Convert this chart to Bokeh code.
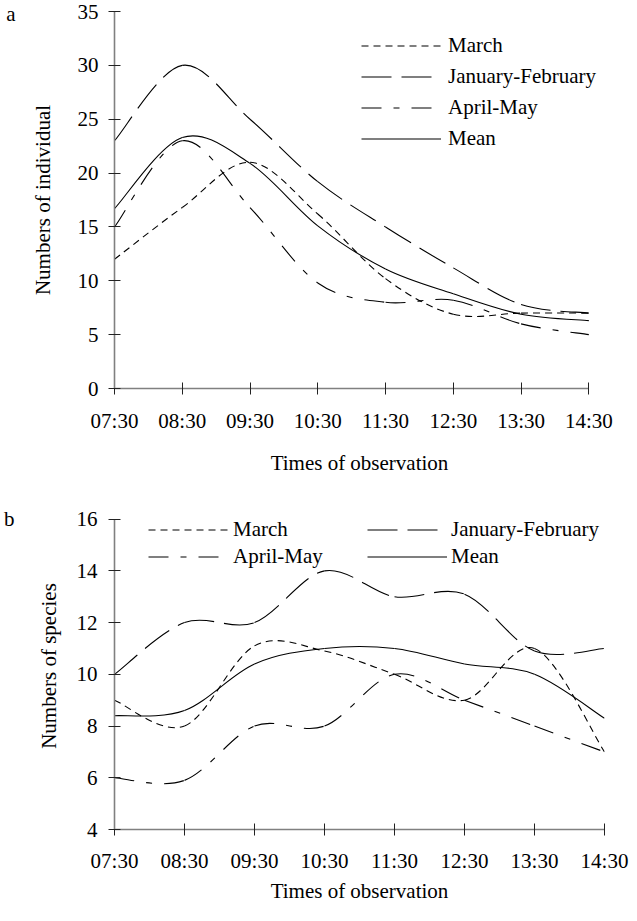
from bokeh.plotting import figure
from bokeh.models import Range1d, FixedTicker, Legend, LegendItem, LinearAxis
from bokeh.layouts import column
from bokeh.embed import file_html
from bokeh.resources import INLINE

# ---------------- data ----------------
hours = [7.5, 8.5, 9.5, 10.5, 11.5, 12.5, 13.5, 14.5]
time_labels = ["07:30", "08:30", "09:30", "10:30", "11:30", "12:30", "13:30", "14:30"]
series_names = ["March", "January-February", "April-May", "Mean"]

# panel a: numbers of individual
ind_march = [12.0, 16.8, 21.0, 16.2, 10.2, 6.9, 7.0, 7.0]
ind_janfeb = [23.0, 30.0, 25.0, 19.2, 15.0, 11.2, 7.8, 7.0]
ind_aprmay = [15.0, 23.0, 16.8, 9.8, 8.0, 8.2, 6.0, 5.0]
ind_mean = [16.7, 23.3, 20.9, 15.1, 11.1, 8.8, 6.9, 6.3]
ind_ticks = [0, 5, 10, 15, 20, 25, 30, 35]

# panel b: numbers of species
spe_march = [9.0, 8.0, 11.1, 10.9, 10.0, 9.0, 11.0, 7.0]
spe_janfeb = [10.0, 12.0, 12.0, 14.0, 13.0, 13.1, 10.9, 11.0]
spe_aprmay = [6.0, 5.9, 8.0, 8.0, 10.0, 9.0, 8.0, 7.0]
spe_mean = [8.4, 8.6, 10.4, 11.0, 11.0, 10.4, 10.0, 8.3]
spe_ticks = [4, 6, 8, 10, 12, 14, 16]

# ---------------- styles ----------------
FONT = "Liberation Serif"
FS = "21px"
DASHES = ["7 5", "30 10", "20 12 6 12", "solid"]
LW = 1.1
W = 629


def smooth(p, xs, ys, dash):
    """Draw a smoothed curve through the data points with bezier segments."""
    n = len(xs)
    d = dict(x0=[], y0=[], x1=[], y1=[], cx0=[], cy0=[], cx1=[], cy1=[])
    for i in range(n - 1):
        im = max(i - 1, 0)
        ip = min(i + 2, n - 1)
        d["x0"].append(xs[i]); d["y0"].append(ys[i])
        d["x1"].append(xs[i + 1]); d["y1"].append(ys[i + 1])
        d["cx0"].append(xs[i] + (xs[i + 1] - xs[im]) / 6.0)
        d["cy0"].append(ys[i] + (ys[i + 1] - ys[im]) / 6.0)
        d["cx1"].append(xs[i + 1] - (xs[ip] - xs[i]) / 6.0)
        d["cy1"].append(ys[i + 1] - (ys[ip] - ys[i]) / 6.0)
    return p.bezier(x0="x0", y0="y0", x1="x1", y1="y1", cx0="cx0", cy0="cy0",
                    cx1="cx1", cy1="cy1", source=d, line_color="black",
                    line_width=LW, line_dash=dash)


def style_axes(p, yticks, xlabel, ylabel, xs1, xs2, ys1, ys2, ybounds):
    p.xaxis.ticker = FixedTicker(ticks=hours)
    p.xaxis.major_label_overrides = {h: t for h, t in zip(hours, time_labels)}
    p.xaxis.bounds = (hours[0], hours[-1])
    p.yaxis.ticker = FixedTicker(ticks=yticks)
    p.yaxis.bounds = ybounds
    p.xaxis.axis_label = xlabel
    p.yaxis.axis_label = ylabel
    p.xaxis.major_label_standoff = xs1
    p.xaxis.axis_label_standoff = xs2
    p.yaxis.major_label_standoff = ys1
    p.yaxis.axis_label_standoff = ys2
    for ax in (p.xaxis[0], p.yaxis[0]):
        ax.axis_line_color = "#808080"
        ax.axis_line_width = 1.6
        ax.major_tick_line_color = "#222222"
        ax.major_tick_line_width = 1
        ax.major_tick_in = 6
        ax.major_tick_out = 6
        ax.minor_tick_line_color = None
        ax.major_label_text_font = FONT
        ax.major_label_text_font_size = FS
        ax.major_label_text_color = "black"
        ax.axis_label_text_font = FONT
        ax.axis_label_text_font_size = FS
        ax.axis_label_text_font_style = "normal"
        ax.axis_label_text_color = "black"
    p.grid.visible = False
    p.outline_line_color = None


def panel_letter(p, tick, letter, standoff):
    ax = LinearAxis(ticker=FixedTicker(ticks=[tick]), major_label_overrides={tick: letter},
                    axis_line_color=None, major_tick_line_color=None,
                    minor_tick_line_color=None, major_tick_in=0, major_tick_out=0,
                    major_label_standoff=standoff, major_label_text_font=FONT,
                    major_label_text_font_size=FS, major_label_text_color="black")
    p.add_layout(ax, "left")


def legend_for(p, names, renderers, loc, gh, sp, standoff):
    items = [LegendItem(label=nm, renderers=[r], index=0) for nm, r in zip(names, renderers)]
    leg = Legend(items=items, location=loc, glyph_width=80, glyph_height=gh,
                 label_height=gh, spacing=sp, label_standoff=standoff,
                 padding=0, margin=0, label_text_font=FONT,
                 label_text_font_size=FS, label_text_color="black",
                 background_fill_alpha=0, border_line_alpha=0)
    p.add_layout(leg)


# ---------------- panel a ----------------
pa = figure(width=W, height=477, x_range=Range1d(7.5, 14.5 + 16 / 69.1), y_range=Range1d(0, 35),
            output_backend="svg", toolbar_location=None,
            min_border_left=105, min_border_right=25, min_border_top=11,
            min_border_bottom=82, background_fill_color="white")
style_axes(pa, ind_ticks, "Times of observation", "Numbers of individual", 14, 15, 10, 20,
           (0, 35))
panel_letter(pa, 35, "a", 12)
rs_a = [smooth(pa, hours, ys, ds)
        for ys, ds in zip([ind_march, ind_janfeb, ind_aprmay, ind_mean], DASHES)]
legend_for(pa, series_names, rs_a, (247, 235), 29, 2, 7)

# ---------------- panel b ----------------
pb = figure(width=W, height=428, x_range=Range1d(7.5, 14.5),
            y_range=Range1d(4, 16 + 17 / 26.42),
            output_backend="svg", toolbar_location=None,
            min_border_left=108, min_border_right=25, min_border_top=25,
            min_border_bottom=69, background_fill_color="white")
style_axes(pb, spe_ticks, "Times of observation", "Numbers of species", 13, 3, 11, 13,
           (4, 16))
panel_letter(pb, 16, "b", 19)
rs_b = [smooth(pb, hours, ys, ds)
        for ys, ds in zip([spe_march, spe_janfeb, spe_aprmay, spe_mean], DASHES)]
legend_for(pb, [series_names[0], series_names[2]], [rs_b[0], rs_b[2]], (34, 260), 25, 2, 5)
legend_for(pb, [series_names[1], series_names[3]], [rs_b[1], rs_b[3]], (253, 260), 25, 2, 4)

layout = column(pa, pb)
open("out.html", "w").write(file_html(layout, INLINE))
